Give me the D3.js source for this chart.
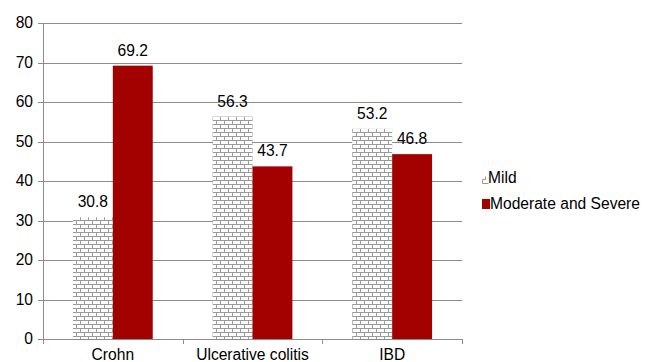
<!DOCTYPE html>
<html><head><meta charset="utf-8">
<script src="https://cdn.jsdelivr.net/npm/d3@7"></script>
<style>body{margin:0;background:#fff}svg{display:block;font-family:"Liberation Sans",Arial,sans-serif}</style>
</head><body><svg id="c" width="646" height="362"></svg>
<script>
const categories = ["Crohn", "Ulcerative colitis", "IBD"];
const seriesNames = ["Mild", "Moderate and Severe"];
const mild = [30.8, 56.3, 53.2];
const moderate = [69.2, 43.7, 46.8];
const yTicks = [0, 10, 20, 30, 40, 50, 60, 70, 80];

const FS = 15.6;
const svg = d3.select("#c");
const L = 43, R = 462, T = 23, B = 339;
const x = d3.scaleBand().domain(categories).range([L, R]);
const y = d3.scaleLinear().domain([0, 80]).range([B, T]);
const bw = x.bandwidth() * 0.2857;

const defs = svg.append("defs");
const pat = defs.append("pattern").attr("id", "brick").attr("patternUnits", "userSpaceOnUse")
  .attr("width", 8).attr("height", 8).attr("x", 0).attr("y", 0);
pat.append("rect").attr("width", 8).attr("height", 8).attr("fill", "#fff");
pat.append("path").attr("d", "M0 0.5H8M0 4.5H8M0.5 0.5V4.5M4.5 4.5V8.5")
  .attr("stroke", "#9a9a9a").attr("stroke-width", 1).attr("fill", "none");

// grid
svg.append("g").selectAll("line").data(yTicks).join("line")
  .attr("x1", L - 5).attr("x2", R).attr("y1", d => Math.round(y(d)) + 0.5).attr("y2", d => Math.round(y(d)) + 0.5)
  .attr("stroke", "#8c8c8c").attr("stroke-width", 1);
// y axis
svg.append("line").attr("x1", L + 0.5).attr("x2", L + 0.5).attr("y1", T).attr("y2", B + 5).attr("stroke", "#8c8c8c");
svg.append("g").selectAll("text").data(yTicks).join("text")
  .attr("x", L - 10).attr("y", d => y(d)).attr("dy", "0.35em").attr("text-anchor", "end")
  .attr("font-size", FS).attr("fill", "#000").text(d => d);
// category boundary ticks
const bounds = categories.map(c => x(c)).concat([R]);
svg.append("g").selectAll("line").data(bounds).join("line")
  .attr("x1", d => Math.round(d) + 0.5).attr("x2", d => Math.round(d) + 0.5).attr("y1", B).attr("y2", B + 5)
  .attr("stroke", "#8c8c8c");

const cx = c => x(c) + x.bandwidth() / 2;
// bars
const g = svg.append("g");
g.selectAll(".m").data(categories).join("rect")
  .attr("x", (c) => cx(c) - bw).attr("width", bw)
  .attr("y", (c, i) => y(mild[i])).attr("height", (c, i) => B - y(mild[i]))
  .attr("fill", "url(#brick)");
g.selectAll(".s").data(categories).join("rect")
  .attr("x", (c) => cx(c)).attr("width", bw)
  .attr("y", (c, i) => y(moderate[i])).attr("height", (c, i) => B - y(moderate[i]))
  .attr("fill", "#a30000");
// labels
g.selectAll(".lm").data(categories).join("text")
  .attr("x", c => cx(c) - bw / 2).attr("y", (c, i) => y(mild[i]) - 10).attr("text-anchor", "middle")
  .attr("font-size", FS).text((c, i) => mild[i].toFixed(1));
g.selectAll(".ls").data(categories).join("text")
  .attr("x", c => cx(c) + bw / 2).attr("y", (c, i) => y(moderate[i]) - 10).attr("text-anchor", "middle")
  .attr("font-size", FS).text((c, i) => moderate[i].toFixed(1));
// x labels
svg.append("g").selectAll("text").data(categories).join("text")
  .attr("x", c => cx(c)).attr("y", 360).attr("text-anchor", "middle").attr("font-size", FS).text(c => c);

// legend
const lg = svg.append("g");
lg.append("path").attr("d", "M482.5 183.5H488.5M482.5 183.5V179.5H485.5V176.5").attr("stroke", "#9a9a9a").attr("fill", "none");
lg.append("text").attr("x", 488).attr("y", 178).attr("dy", "0.35em").attr("font-size", FS).text(seriesNames[0]);
lg.append("rect").attr("x", 482).attr("y", 199).attr("width", 8).attr("height", 10).attr("fill", "#a30000");
lg.append("text").attr("x", 490).attr("y", 204).attr("dy", "0.35em").attr("font-size", FS).text(seriesNames[1]);
</script></body></html>
